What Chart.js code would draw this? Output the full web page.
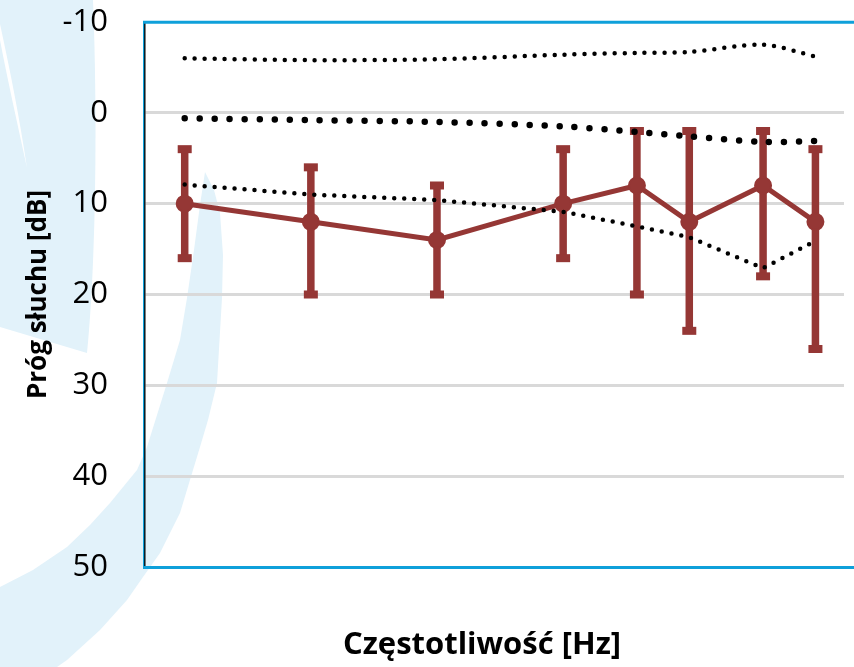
<!DOCTYPE html>
<html>
<head>
<meta charset="utf-8">
<script src="https://cdn.jsdelivr.net/npm/chart.js@4"></script>
<style>
  html, body { margin: 0; padding: 0; background: #fff; overflow: hidden; }
  #wrap { position: relative; width: 854px; height: 667px; }
  #bg { position: absolute; left: 0; top: 0; }
  #chart { position: absolute; left: 0; top: 0; }
</style>
</head>
<body>
<div id="wrap">
  <!-- znak wodny w tle -->
  <svg id="bg" width="854" height="667">
    <path fill="#e2f2fa" d="M0,0 L93,0 C97,100 97,250 87,353 L0,327 Z"/>
    <path fill="#ffffff" d="M0,24 C10,70 20,120 27,168 C17,122 8,82 0,40 Z"/>
    <path fill="#e2f2fa" d="M205,172 L214,190 L220,213 L223,255 L222,298 L217,383 L208,420 L200,447 L193,470 L180,513 L160,553 L143,577 L127,600 L100,630 L67,660 L57,667 L0,667 L0,587 L33,570 L67,547 L90,525 L110,503 L137,470 L147,447 L167,383 L180,340 L187,298 L194,250 L200,205 Z"/>
  </svg>
  <canvas id="chart" width="854" height="667"></canvas>
</div>
<script>
// Dane: częstotliwości [Hz] i progi słuchu [dB]
const freqs = [250, 500, 1000, 2000, 3000, 4000, 6000, 8000];
const meanThreshold = [10, 12, 14, 10, 8, 12, 8, 12];
const thresholdMin = [4, 6, 8, 4, 2, 2, 2, 4];
const thresholdMax = [16, 20, 20, 16, 20, 24, 18, 26];
const normUpper = [-6.0, -5.8, -5.9, -6.4, -6.6, -6.7, -7.5, -6.2];
const normMid = [0.6, 0.8, 1.0, 1.5, 2.1, 2.6, 3.2, 3.1];
const normLower = [7.9, 9.0, 9.6, 10.9, 12.5, 13.7, 17.1, 14.1];
const yTicks = [-10, 0, 10, 20, 30, 40, 50];

const RED = '#953735';
const BLUE = '#0ea0da';
const FONT = '"Open Sans", "DejaVu Sans", sans-serif';

const toPoints = arr => arr.map((v, i) => ({ x: freqs[i], y: v }));

// Słupki błędów pod seriami
const errorBars = {
    id: 'errorBars',
    beforeDatasetsDraw(chart) {
        const { ctx, scales: { x, y } } = chart;
        ctx.save();
        ctx.strokeStyle = RED;
        ctx.fillStyle = RED;
        ctx.lineWidth = 7.5;
        freqs.forEach((f, i) => {
            const px = x.getPixelForValue(f);
            const y1 = y.getPixelForValue(thresholdMin[i]);
            const y2 = y.getPixelForValue(thresholdMax[i]);
            ctx.beginPath();
            ctx.moveTo(px, y1);
            ctx.lineTo(px, y2);
            ctx.stroke();
            ctx.fillRect(px - 7, y1 - 4, 14, 8);
            ctx.fillRect(px - 7, y2 - 4, 14, 8);
        });
        ctx.restore();
    }
};

// Ramka wykresu i podpis osi X
const frame = {
    id: 'frame',
    afterDraw(chart) {
        const { ctx, chartArea: a, width } = chart;
        ctx.save();
        ctx.strokeStyle = BLUE;
        ctx.lineWidth = 3;
        ctx.beginPath();
        ctx.moveTo(143, a.top + 0.3);
        ctx.lineTo(width, a.top + 0.3);
        ctx.moveTo(143, a.bottom + 0.5);
        ctx.lineTo(width, a.bottom + 0.5);
        ctx.stroke();
        ctx.lineWidth = 1.2;
        ctx.beginPath();
        ctx.moveTo(143.6, a.top - 1);
        ctx.lineTo(143.6, a.bottom + 2);
        ctx.stroke();

        ctx.fillStyle = '#000';
        ctx.font = 'bold 31px ' + FONT;
        ctx.textAlign = 'center';
        ctx.textBaseline = 'alphabetic';
        ctx.fillText('Częstotliwość [Hz]', 482, 654);
        ctx.restore();
    }
};

const ctx = document.getElementById('chart').getContext('2d');
new Chart(ctx, {
    type: 'line',
    data: {
        datasets: [
            {
                data: toPoints(normUpper),
                borderColor: '#000',
                borderWidth: 4.5,
                borderDash: [0, 10],
                borderCapStyle: 'round',
                borderJoinStyle: 'round',
                pointRadius: 0,
                tension: 0.3
            },
            {
                data: toPoints(normMid),
                borderColor: '#000',
                borderWidth: 6.5,
                borderDash: [0, 15],
                borderCapStyle: 'round',
                borderJoinStyle: 'round',
                pointRadius: 0,
                tension: 0.3
            },
            {
                data: toPoints(normLower),
                borderColor: '#000',
                borderWidth: 4.5,
                borderDash: [0, 10],
                borderCapStyle: 'round',
                borderJoinStyle: 'round',
                pointRadius: 0,
                tension: 0
            },
            {
                data: toPoints(meanThreshold),
                borderColor: RED,
                backgroundColor: RED,
                borderWidth: 5,
                pointRadius: 8,
                pointBorderWidth: 2,
                pointBorderColor: RED,
                pointBackgroundColor: RED,
                tension: 0
            }
        ]
    },
    options: {
        responsive: false,
        animation: false,
        layout: { padding: { top: 22, bottom: 100, left: 0, right: 0 } },
        plugins: {
            legend: { display: false },
            tooltip: { enabled: false }
        },
        scales: {
            x: {
                type: 'logarithmic',
                display: false,
                min: 201,
                max: 9360
            },
            y: {
                reverse: true,
                min: yTicks[0],
                max: yTicks[yTicks.length - 1],
                afterFit: scale => {
                    scale.width = 145;
                    scale.paddingTop = 0;
                    scale.paddingBottom = 0;
                },
                afterBuildTicks: scale => { scale.ticks = yTicks.map(v => ({ value: v })); },
                grid: {
                    drawTicks: false,
                    lineWidth: 3,
                    color: c => (c.tick && (c.tick.value === yTicks[0] || c.tick.value === yTicks[yTicks.length - 1])) ? 'rgba(0,0,0,0)' : '#d9d9d9'
                },
                border: { display: true, color: '#000', width: 1.5 },
                ticks: {
                    color: '#000',
                    padding: 37,
                    font: { family: FONT, size: 31 }
                },
                title: {
                    display: true,
                    text: 'Próg słuchu [dB]',
                    color: '#000',
                    font: { family: FONT, size: 26, weight: 'bold' },
                    padding: { top: 23, bottom: 0 }
                }
            }
        }
    },
    plugins: [errorBars, frame]
});
</script>
</body>
</html>
